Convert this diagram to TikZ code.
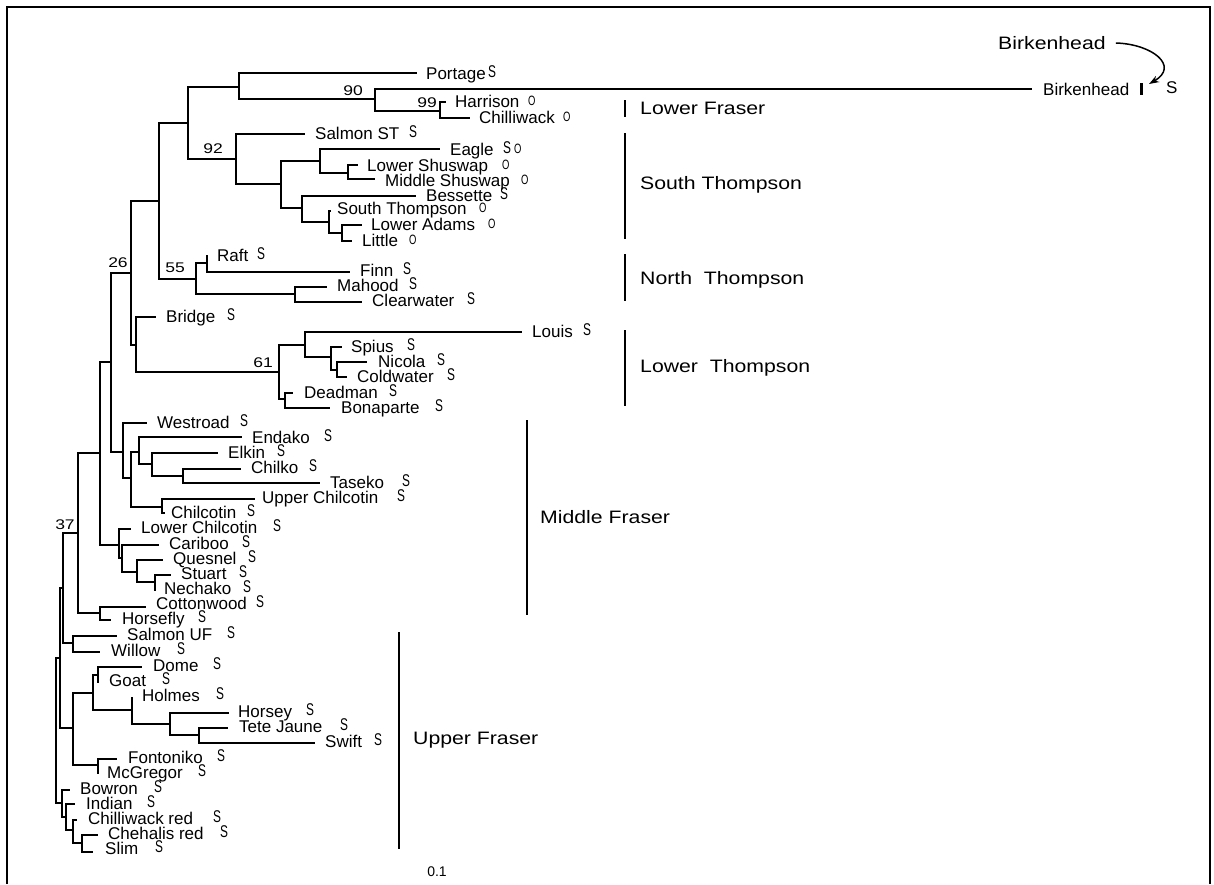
\documentclass[tikz,border=0pt]{standalone}
\usepackage{fontspec}
\setmainfont{Liberation Sans}
\newfontfamily\regfont[FakeStretch=1.18]{Liberation Sans}
\newfontfamily\mkfont[FakeStretch=0.7]{Liberation Sans}
\newfontfamily\numfont[FakeStretch=1.25]{Liberation Sans}
\usetikzlibrary{arrows.meta}
\newcommand\mS{{\mkfont S}}
\newcommand\mO{{\fontsize{13.5}{13.5}\selectfont\mkfont O}}
\tikzset{
  tree/.style={line width=1.8pt, line join=miter},
  lab/.style={anchor=base west, inner sep=0pt, font=\fontsize{17}{17}\selectfont},
  num/.style={inner sep=0pt, font=\fontsize{14}{14}\selectfont\numfont},
  reg/.style={anchor=west, inner sep=0pt, font=\fontsize{18}{18}\selectfont\regfont},
  regbar/.style={line width=2.6pt},
}
\newcommand\leaf[8]{%
  \coordinate (#1) at (#2,#3);
  \node[lab] (#1L) at (#4,#5+6) {#6};
  \node[lab] (#1M) at (#7,#5+4.5) {#8};}
\newcommand\inode[3]{\coordinate (#1) at (#2,#3);}
\newcommand\br[3]{\draw[tree] (#1) |- (#2); \draw[tree] (#1) |- (#3);}
\begin{document}
\begin{tikzpicture}[x=1pt,y=-1pt]
\useasboundingbox (0,0) rectangle (1214,884);
\fill[white] (0,0) rectangle (1214,884);
% frame
\draw[line width=2.4pt] (7,884) -- (7,7) -- (1210,7) -- (1210,884);

% leaves
\leaf{Portage}{417}{73}{426}{73}{Portage}{488}{\mS}
\leaf{Birk}{1032}{89}{1043}{89}{Birkenhead}{1166}{S}
\leaf{Harr}{446}{102}{455}{101}{Harrison}{528}{\mO}
\leaf{Chil}{470}{118}{479}{117}{Chilliwack}{563}{\mO}
\leaf{SalST}{305}{134}{315}{133}{Salmon ST}{409}{\mS}
\leaf{Eagle}{440}{149}{450}{149}{Eagle}{503}{\mS\hspace{3pt}\mO}
\leaf{LShu}{358}{165}{367}{165}{Lower Shuswap}{502}{\mO}
\leaf{MShu}{375}{179}{385}{180}{Middle Shuswap}{521}{\mO}
\leaf{Bess}{416}{196}{426}{195}{Bessette}{500}{\mS}
\leaf{SThom}{331}{211}{337}{208}{South Thompson}{479}{\mO}
\leaf{LAd}{362}{225}{371}{224}{Lower Adams}{488}{\mO}
\leaf{Little}{352}{241}{362}{240}{Little}{409}{\mO}
\leaf{Raft}{208}{256}{217}{255}{Raft}{257}{\mS}
\leaf{Finn}{350}{272}{360}{270}{Finn}{403}{\mS}
\leaf{Mahood}{327}{287}{337}{285}{Mahood}{409}{\mS}
\leaf{Clear}{362}{302}{372}{300}{Clearwater}{467}{\mS}
\leaf{Bridge}{156}{317}{166}{316}{Bridge}{227}{\mS}
\leaf{Louis}{522}{332}{532}{331}{Louis}{583}{\mS}
\leaf{Spius}{342}{347}{351}{346}{Spius}{407}{\mS}
\leaf{Nicola}{367}{362}{378}{361}{Nicola}{437}{\mS}
\leaf{Cold}{347}{377}{357}{376}{Coldwater}{447}{\mS}
\leaf{Dead}{293}{393}{304}{392}{Deadman}{389}{\mS}
\leaf{Bona}{330}{408}{341}{407}{Bonaparte}{435}{\mS}
\leaf{West}{147}{423}{157}{422}{Westroad}{240}{\mS}
\leaf{Endako}{242}{437}{252}{437}{Endako}{324}{\mS}
\leaf{Elkin}{218}{453}{228}{452}{Elkin}{277}{\mS}
\leaf{Chilko}{241}{469}{251}{467}{Chilko}{309}{\mS}
\leaf{Taseko}{320}{483}{330}{482}{Taseko}{402}{\mS}
\leaf{UChil}{255}{499}{262}{497}{Upper Chilcotin}{397}{\mS}
\leaf{Chilc}{165}{513}{171}{512}{Chilcotin}{247}{\mS}
\leaf{LChil}{131}{529}{141}{527}{Lower Chilcotin}{273}{\mS}
\leaf{Cari}{159}{545}{169}{543}{Cariboo}{242}{\mS}
\leaf{Ques}{163}{560}{173}{558}{Quesnel}{248}{\mS}
\leaf{Stuart}{171}{575}{181}{573}{Stuart}{239}{\mS}
\leaf{Nech}{156}{590}{164}{588}{Nechako}{243}{\mS}
\leaf{Cotton}{146}{607}{156}{603}{Cottonwood}{256}{\mS}
\leaf{Horse}{111}{620}{122}{618}{Horsefly}{198}{\mS}
\leaf{SUF}{117}{636}{127}{634}{Salmon UF}{227}{\mS}
\leaf{Willow}{100}{652}{111}{650}{Willow}{177}{\mS}
\leaf{Dome}{142}{667}{153}{665}{Dome}{213}{\mS}
\leaf{Goat}{99}{682}{109}{680}{Goat}{162}{\mS}
\leaf{Holmes}{133}{698}{142}{695}{Holmes}{216}{\mS}
\leaf{Horsey}{229}{713}{238}{711}{Horsey}{306}{\mS}
\leaf{Tete}{228}{728}{239}{726}{Tete Jaune}{340}{\mS}
\leaf{Swift}{315}{743}{325}{741}{Swift}{374}{\mS}
\leaf{Fonto}{117}{759}{128}{757}{Fontoniko}{217}{\mS}
\leaf{McG}{99}{773}{107}{772}{McGregor}{198}{\mS}
\leaf{Bowron}{70}{790}{80}{788}{Bowron}{154}{\mS}
\leaf{Indian}{75}{804}{86}{803}{Indian}{147}{\mS}
\leaf{ChR}{77}{820}{88}{818}{Chilliwack red}{213}{\mS}
\leaf{Cheh}{98}{835}{108}{833}{Chehalis red}{220}{\mS}
\leaf{Slim}{93}{852}{105}{848}{Slim}{155}{\mS}

% internal nodes
\inode{nPB}{239}{87}
\inode{n90}{375}{99}
\inode{n99}{440}{111}
\inode{nA}{188}{123}
\inode{n92}{236}{159}
\inode{nST}{281}{184}
\inode{nE}{320}{161}
\inode{nShu}{348}{173}
\inode{nB}{302}{208}
\inode{nSTh}{329}{222}
\inode{nLA}{342}{233}
\inode{n159}{159}{201}
\inode{n55}{196}{279}
\inode{nRF}{207}{263}
\inode{nMC}{295}{294}
\inode{n26}{131}{273}
\inode{nBL}{136}{345}
\inode{n61}{279}{372}
\inode{nLS}{305}{345}
\inode{nSp}{331}{357}
\inode{nNC}{337}{370}
\inode{nDB}{285}{399}
\inode{n111}{111}{362}
\inode{nW}{123}{452}
\inode{n131}{131}{478}
\inode{nEn}{139}{452}
\inode{nEl}{152}{464}
\inode{nCT}{183}{476}
\inode{nUC}{162}{507}
\inode{n100}{100}{453}
\inode{nLC}{119}{545}
\inode{nCa}{122}{558}
\inode{nQ}{137}{572}
\inode{nSN}{155}{582}
\inode{n37}{78}{533}
\inode{nCH}{100}{613}
\inode{nP}{63}{588}
\inode{nSW}{73}{643}
\inode{nQ61}{60}{658}
\inode{nUF}{73}{728}
\inode{nDG}{93}{693}
\inode{nDo}{98}{675}
\inode{nHo}{132}{710}
\inode{nHT}{170}{724}
\inode{nTS}{199}{735}
\inode{nFM}{98}{765}
\inode{root}{56}{730}
\inode{nBo}{62}{803}
\inode{nIn}{66}{817}
\inode{nCR}{73}{830}
\inode{nCS}{82}{843}

% branches
\br{nPB}{Portage}{n90}
\br{n90}{Birk}{n99}
\br{n99}{Harr}{Chil}
\br{nA}{nPB}{n92}
\br{n92}{SalST}{nST}
\br{nST}{nE}{nB}
\br{nE}{Eagle}{nShu}
\br{nShu}{LShu}{MShu}
\br{nB}{Bess}{nSTh}
\br{nSTh}{SThom}{nLA}
\br{nLA}{LAd}{Little}
\br{n159}{nA}{n55}
\br{n55}{nRF}{nMC}
\br{nRF}{Raft}{Finn}
\br{nMC}{Mahood}{Clear}
\br{n26}{n159}{nBL}
\br{nBL}{Bridge}{n61}
\br{n61}{nLS}{nDB}
\br{nLS}{Louis}{nSp}
\br{nSp}{Spius}{nNC}
\br{nNC}{Nicola}{Cold}
\br{nDB}{Dead}{Bona}
\br{n111}{n26}{nW}
\br{nW}{West}{n131}
\br{n131}{nEn}{nUC}
\br{nEn}{Endako}{nEl}
\br{nEl}{Elkin}{nCT}
\br{nCT}{Chilko}{Taseko}
\br{nUC}{UChil}{Chilc}
\br{n100}{n111}{nLC}
\br{nLC}{LChil}{nCa}
\br{nCa}{Cari}{nQ}
\br{nQ}{Ques}{nSN}
\br{nSN}{Stuart}{Nech}
\br{n37}{n100}{nCH}
\br{nCH}{Cotton}{Horse}
\br{nP}{n37}{nSW}
\br{nSW}{SUF}{Willow}
\br{nQ61}{nP}{nUF}
\br{nUF}{nDG}{nFM}
\br{nDG}{nDo}{nHo}
\br{nDo}{Dome}{Goat}
\br{nHo}{Holmes}{nHT}
\br{nHT}{Horsey}{nTS}
\br{nTS}{Tete}{Swift}
\br{nFM}{Fonto}{McG}
\br{root}{nQ61}{nBo}
\br{nBo}{Bowron}{nIn}
\br{nIn}{Indian}{nCR}
\br{nCR}{ChR}{nCS}
\br{nCS}{Cheh}{Slim}

% bootstrap values
\node[num] (b90) at (353,91) {90};
\node[num] (b99) at (427,103) {99};
\node[num] (b92) at (213,149) {92};
\node[num] (b55) at (175,268) {55};
\node[num] (b26) at (118,263) {26};
\node[num] (b61) at (263,363) {61};
\node[num] (b37) at (65,525) {37};

% region bars and labels
\draw[regbar] (625,100) -- (625,117);
\node[reg] (rLF) at (640,108) {Lower Fraser};
\draw[regbar] (625,133) -- (625,239);
\node[reg] (rST) at (640,185) {South Thompson};
\draw[regbar] (625,254) -- (625,301);
\node[reg] (rNT) at (640,280) {North\ \ Thompson};
\draw[regbar] (625,330) -- (625,406);
\node[reg] (rLT) at (640,368) {Lower\ \ Thompson};
\draw[regbar] (527,420) -- (527,615);
\node[reg] (rMF) at (540,517) {Middle Fraser};
\draw[regbar] (399,632) -- (399,849);
\node[reg] (rUF) at (413,740) {Upper Fraser};

% Birkenhead callout
\draw[line width=3pt] (1141,83) -- (1141,95);
\node[reg] (bkT) at (998,43) {Birkenhead};
\coordinate (bkArr) at (1149,84);
\draw[line width=1.5pt, -{Stealth[length=10pt,width=7pt]}] (bkT.east) ++(10,0) .. controls (1152,44) and (1180,66) .. (bkArr);

% scale
\node[inner sep=0pt, font=\fontsize{14}{14}\selectfont] (scale) at (437,872) {0.1};
\end{tikzpicture}
\end{document}
